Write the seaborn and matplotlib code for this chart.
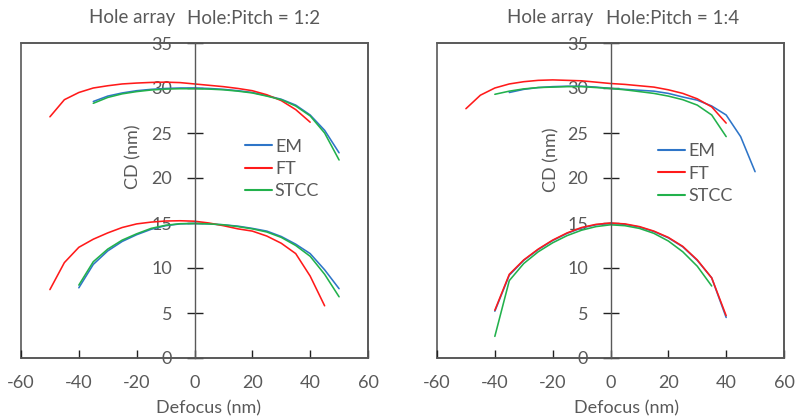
import matplotlib
matplotlib.use("Agg")
import matplotlib.pyplot as plt
import seaborn as sns
import pandas as pd
from matplotlib.lines import Line2D

# ---------------- data ----------------
# Left panel: Hole:Pitch = 1:2
L_FT_up_x = [-50, -45, -40, -35, -30, -25, -20, -15, -10, -5, 0, 5, 10, 15, 20, 25, 30, 35, 40]
L_FT_up_y = [26.8, 28.7, 29.5, 30.0, 30.25, 30.45, 30.55, 30.62, 30.65, 30.6, 30.45, 30.3, 30.15, 29.95, 29.7, 29.25, 28.6, 27.6, 26.2]
L_EM_up_x = [-35, -30, -25, -20, -15, -10, -5, 0, 5, 10, 15, 20, 25, 30, 35, 40, 45, 50]
L_EM_up_y = [28.5, 29.1, 29.45, 29.7, 29.85, 29.95, 30.0, 30.0, 29.95, 29.85, 29.7, 29.5, 29.15, 28.75, 28.1, 27.0, 25.3, 22.8]
L_ST_up_x = [-35, -30, -25, -20, -15, -10, -5, 0, 5, 10, 15, 20, 25, 30, 35, 40, 45, 50]
L_ST_up_y = [28.3, 28.95, 29.35, 29.6, 29.78, 29.88, 29.92, 29.92, 29.88, 29.8, 29.65, 29.45, 29.1, 28.7, 28.0, 26.9, 25.0, 22.0]

L_FT_lo_x = [-50, -45, -40, -35, -30, -25, -20, -15, -10, -5, 0, 5, 10, 15, 20, 25, 30, 35, 40, 45]
L_FT_lo_y = [7.6, 10.6, 12.3, 13.2, 13.9, 14.5, 14.9, 15.1, 15.22, 15.25, 15.2, 15.0, 14.7, 14.35, 14.1, 13.55, 12.75, 11.6, 9.1, 5.8]
L_EM_lo_x = [-40, -35, -30, -25, -20, -15, -10, -5, 0, 5, 10, 15, 20, 25, 30, 35, 40, 45, 50]
L_EM_lo_y = [7.8, 10.4, 11.9, 12.95, 13.7, 14.3, 14.7, 14.9, 14.95, 14.9, 14.8, 14.65, 14.4, 14.1, 13.5, 12.65, 11.6, 9.8, 7.7]
L_ST_lo_x = [-40, -35, -30, -25, -20, -15, -10, -5, 0, 5, 10, 15, 20, 25, 30, 35, 40, 45, 50]
L_ST_lo_y = [8.1, 10.7, 12.1, 13.1, 13.8, 14.4, 14.75, 14.92, 14.95, 14.9, 14.8, 14.6, 14.35, 14.0, 13.4, 12.5, 11.3, 9.3, 6.8]

# Right panel: Hole:Pitch = 1:4
R_FT_up_x = [-50, -45, -40, -35, -30, -25, -20, -15, -10, -5, 0, 5, 10, 15, 20, 25, 30, 35, 40]
R_FT_up_y = [27.7, 29.2, 30.0, 30.45, 30.7, 30.85, 30.9, 30.85, 30.8, 30.65, 30.5, 30.4, 30.25, 30.1, 29.8, 29.4, 28.8, 27.9, 26.1]
R_EM_up_x = [-35, -30, -25, -20, -15, -10, -5, 0, 5, 10, 15, 20, 25, 30, 35, 40, 45, 50]
R_EM_up_y = [29.5, 29.85, 30.05, 30.15, 30.2, 30.2, 30.1, 29.95, 29.85, 29.75, 29.65, 29.4, 29.0, 28.65, 28.0, 27.0, 24.6, 20.7]
R_ST_up_x = [-40, -35, -30, -25, -20, -15, -10, -5, 0, 5, 10, 15, 20, 25, 30, 35, 40]
R_ST_up_y = [29.3, 29.65, 29.9, 30.05, 30.1, 30.15, 30.15, 30.05, 29.95, 29.8, 29.6, 29.4, 29.1, 28.7, 28.1, 27.0, 24.6]

R_FT_lo_x = [-40, -35, -30, -25, -20, -15, -10, -5, 0, 5, 10, 15, 20, 25, 30, 35, 40]
R_FT_lo_y = [5.3, 9.3, 10.9, 12.1, 13.1, 13.9, 14.5, 14.85, 15.0, 14.9, 14.6, 14.1, 13.4, 12.4, 10.9, 8.9, 4.7]
R_EM_lo_x = [-40, -35, -30, -25, -20, -15, -10, -5, 0, 5, 10, 15, 20, 25, 30, 35, 40]
R_EM_lo_y = [5.2, 9.2, 10.85, 12.05, 13.05, 13.85, 14.45, 14.8, 14.95, 14.85, 14.55, 14.05, 13.35, 12.35, 10.85, 8.9, 4.5]
R_ST_lo_x = [-40, -35, -30, -25, -20, -15, -10, -5, 0, 5, 10, 15, 20, 25, 30, 35]
R_ST_lo_y = [2.4, 8.6, 10.5, 11.8, 12.8, 13.6, 14.2, 14.6, 14.8, 14.7, 14.4, 13.85, 13.0, 11.8, 10.2, 8.0]

series_names = ["EM", "FT", "STCC"]
title_parts = [("Hole array", "Hole:Pitch = 1:2"), ("Hole array", "Hole:Pitch = 1:4")]
x_ticks = [-60, -40, -20, 0, 20, 40, 60]
y_ticks = [0, 5, 10, 15, 20, 25, 30, 35]
x_label = "Defocus (nm)"
y_label = "CD (nm)"
heading = "NA 0.55"

# ---------------- style ----------------
sns.set_theme(style="white")
plt.rcParams["font.family"] = ["Lato", "DejaVu Sans"]
GREY = "#595959"
colors = {"EM": "#2E75C8", "FT": "#FF1A1A", "STCC": "#22B14C"}

panels = [
    {"EM": [(L_EM_up_x, L_EM_up_y), (L_EM_lo_x, L_EM_lo_y)],
     "FT": [(L_FT_up_x, L_FT_up_y), (L_FT_lo_x, L_FT_lo_y)],
     "STCC": [(L_ST_up_x, L_ST_up_y), (L_ST_lo_x, L_ST_lo_y)]},
    {"EM": [(R_EM_up_x, R_EM_up_y), (R_EM_lo_x, R_EM_lo_y)],
     "FT": [(R_FT_up_x, R_FT_up_y), (R_FT_lo_x, R_FT_lo_y)],
     "STCC": [(R_ST_up_x, R_ST_up_y), (R_ST_lo_x, R_ST_lo_y)]},
]

fig = plt.figure(figsize=(7.95, 4.20), dpi=100)
W, H = 795, 420
boxes = [(21, 368), (437, 784)]
top_px, bot_px = 43, 358
legend_x = [0.625, 0.617]
legend_y = [0.60, 0.585]
ylab_pos = [(0.323, 0.64), (0.329, 0.63)]
xlab_pos = [(0.54, -0.16), (0.545, -0.16)]
title_px = [(132, 254), (550, 673)]

for i, data in enumerate(panels):
    l, r = boxes[i]
    ax = fig.add_axes([l / W, 1 - bot_px / H, (r - l) / W, (bot_px - top_px) / H])
    for name in series_names:
        for k, (xs, ys) in enumerate(data[name]):
            df = pd.DataFrame({"x": xs, "y": ys})
            sns.lineplot(data=df, x="x", y="y", ax=ax, color=colors[name],
                         linewidth=1.15, sort=False, estimator=None, legend=False)
    ax.set_xlim(-60, 60)
    ax.set_ylim(0, 35)
    ax.set_xticks(x_ticks)
    ax.set_yticks(y_ticks)
    ax.set_xticklabels([str(t) for t in x_ticks])
    ax.set_yticklabels([str(t) for t in y_ticks])

    # frame around the plot area
    ax.patch.set_edgecolor(GREY)
    ax.patch.set_linewidth(1.2)
    for s in ["top", "right", "bottom"]:
        ax.spines[s].set_visible(True)
        ax.spines[s].set_color(GREY)
        ax.spines[s].set_linewidth(1.2)
    ax.spines["left"].set_position(("data", 0))
    ax.spines["left"].set_color(GREY)
    ax.spines["left"].set_linewidth(1.0)

    ax.tick_params(axis="y", direction="inout", length=11, width=1.0,
                   color="#222222", labelcolor=GREY, labelsize=13, pad=10.5, left=True)
    ax.tick_params(axis="x", direction="in", length=6, width=1.0,
                   color="#222222", labelcolor=GREY, labelsize=13, pad=12, bottom=True)

    ax.set_xlabel(x_label, fontsize=13, color=GREY)
    ax.xaxis.set_label_coords(*xlab_pos[i])
    ax.xaxis.label.set_va("center")
    ax.set_ylabel(y_label, fontsize=13, color=GREY)
    ax.yaxis.set_label_coords(*ylab_pos[i])
    ax.yaxis.label.set_va("center")

    for part, cx in zip(title_parts[i], title_px[i]):
        fig.text(cx / W, 1 - 18 / H, part, ha="center", va="center",
                 fontsize=13.5, color=GREY)

    handles = [Line2D([], [], color=colors[n], linewidth=1.5) for n in series_names]
    leg = ax.legend(handles, series_names, loc="center left",
                    bbox_to_anchor=(legend_x[i], legend_y[i]), frameon=False,
                    fontsize=13, handlelength=1.5, handletextpad=0.15,
                    labelspacing=0.35, borderaxespad=0)
    for t in leg.get_texts():
        t.set_color(GREY)

# heading cut off at the very top of the picture (only its lower edge shows)
fig.text(27 / W, 1 - 0.5 / H, heading, fontsize=13, fontweight="bold",
         color="#222222", ha="left", va="baseline")

fig.savefig("out.png", dpi=100)
